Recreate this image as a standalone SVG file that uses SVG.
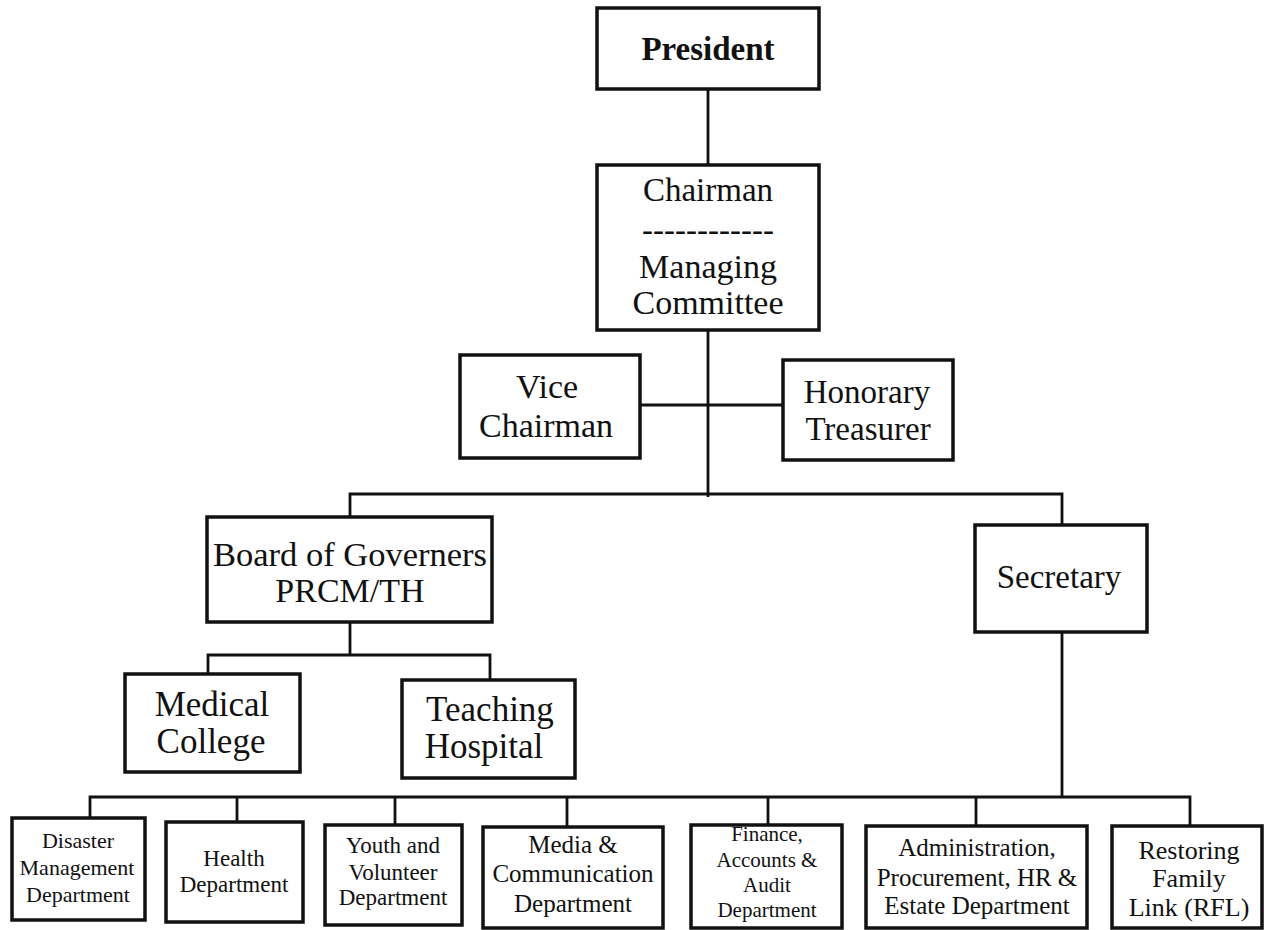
<svg xmlns="http://www.w3.org/2000/svg" width="1267" height="930" viewBox="0 0 1267 930">
<style>
.box{fill:#fff;stroke:#111;stroke-width:3.5}
.ln{fill:none;stroke:#111;stroke-width:2.8}
text{font-family:"Liberation Serif","Times New Roman",serif;fill:#111;text-anchor:middle}
.t33{font-size:33px}.t34{font-size:34px}.t35{font-size:35px}
.s21{font-size:21px}.s22{font-size:22px}.s23{font-size:23px}.s25{font-size:25px}.s26{font-size:26px}
</style>
<rect width="1267" height="930" fill="#fff"/>
<g id="connectors">
<path class="ln" d="M708 89V165"/>
<path class="ln" d="M708 330V497"/>
<path class="ln" d="M640 405H783"/>
<path class="ln" d="M350 517V494H1062V525"/>
<path class="ln" d="M350 622V655"/>
<path class="ln" d="M208 676V655H490V681"/>
<path class="ln" d="M1062 632V797"/>
<path class="ln" d="M90 818V797H1190V826"/>
<path class="ln" d="M237 797V822M395 797V825M567 797V827M768 797V826M976 797V826"/>
</g>
<g id="president"><rect class="box" x="597" y="8" width="222" height="81"/><text class="t33" x="708" y="60" font-weight="bold">President</text></g>
<g id="chairman"><rect class="box" x="597" y="165" width="222" height="165"/><text class="t33" x="708" y="201">Chairman</text><text class="t33" x="708" y="241">------------</text><text class="t34" x="708" y="278">Managing</text><text class="t34" x="708" y="314">Committee</text></g>
<g id="vice-chairman"><rect class="box" x="460" y="355" width="180" height="103"/><text class="t34" x="547" y="398">Vice</text><text class="t34" x="546" y="437">Chairman</text></g>
<g id="honorary-treasurer"><rect class="box" x="783" y="360" width="170" height="100"/><text class="t33" x="867" y="403">Honorary</text><text class="t33" x="868" y="440">Treasurer</text></g>
<g id="board"><rect class="box" x="207" y="517" width="285" height="105"/><text class="t34" x="350" y="566" textLength="274" lengthAdjust="spacingAndGlyphs">Board of Governers</text><text class="t34" x="350" y="602">PRCM/TH</text></g>
<g id="secretary"><rect class="box" x="975" y="525" width="172" height="107"/><text class="t33" x="1059" y="588">Secretary</text></g>
<g id="medical-college"><rect class="box" x="125" y="674" width="175" height="98"/><text class="t35" x="212" y="716">Medical</text><text class="t35" x="211" y="753">College</text></g>
<g id="teaching-hospital"><rect class="box" x="402" y="680" width="173" height="98"/><text class="t35" x="490" y="721">Teaching</text><text class="t35" x="484" y="758">Hospital</text></g>
<g id="disaster"><rect class="box" x="12" y="818" width="133" height="102"/><text class="s22" x="78" y="848">Disaster</text><text class="s22" x="77" y="875">Management</text><text class="s22" x="78" y="902">Department</text></g>
<g id="health"><rect class="box" x="166" y="822" width="137" height="100"/><text class="s23" x="234" y="866">Health</text><text class="s23" x="234" y="892">Department</text></g>
<g id="youth"><rect class="box" x="325" y="825" width="137" height="100"/><text class="s23" x="393" y="853">Youth and</text><text class="s23" x="393" y="880">Volunteer</text><text class="s23" x="393" y="905">Department</text></g>
<g id="media"><rect class="box" x="483" y="827" width="180" height="101"/><text class="s25" x="573" y="853">Media &amp;</text><text class="s25" x="573" y="882">Communication</text><text class="s25" x="573" y="912">Department</text></g>
<g id="finance"><rect class="box" x="691" y="825" width="151" height="103"/><text class="s21" x="767" y="841">Finance,</text><text class="s21" x="767" y="867">Accounts &amp;</text><text class="s21" x="767" y="892">Audit</text><text class="s21" x="767" y="917">Department</text></g>
<g id="administration"><rect class="box" x="866" y="826" width="221" height="102"/><text class="s25" x="977" y="856">Administration,</text><text class="s25" x="977" y="886">Procurement, HR &amp;</text><text class="s25" x="977" y="914">Estate Department</text></g>
<g id="rfl"><rect class="box" x="1112" y="826" width="150" height="102"/><text class="s26" x="1189" y="859">Restoring</text><text class="s26" x="1189" y="887">Family</text><text class="s26" x="1189" y="916">Link (RFL)</text></g>
</svg>
